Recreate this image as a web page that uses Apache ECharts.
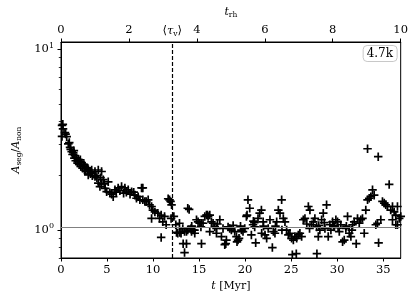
<!DOCTYPE html>
<html>
<head>
<meta charset="utf-8">
<script src="https://cdn.jsdelivr.net/npm/echarts@6/dist/echarts.min.js"></script>
<style>html,body{margin:0;padding:0;background:#fff}#c{width:411px;height:308px}</style>
</head>
<body>
<div id="c"></div>
<script>
// time in Myr
const tMyr = [
 0.11,0.20,0.22,0.11,0.43,0.50,0.62,0.79,0.90,0.98,1.05,1.16,1.25,1.33,1.45,1.52,1.60,1.70,1.80,1.88,
 2.00,2.06,2.15,2.25,2.35,2.42,2.55,2.60,2.70,2.79,2.96,2.96,3.15,3.20,3.33,3.40,3.69,3.69,3.90,4.05,
 4.05,4.23,4.40,4.41,4.59,4.80,4.96,5.13,5.31,5.50,5.67,5.86,6.00,6.21,6.40,6.58,6.80,6.94,7.10,7.30,
 7.50,7.67,7.90,8.03,8.20,8.38,8.57,8.75,8.89,8.89,9.11,9.25,9.47,9.62,9.84,9.84,9.98,10.20,10.52,10.70,
 10.88,10.88,11.06,11.25,11.42,11.64,11.79,11.90,11.96,12.01,
 12.26,12.47,12.55,12.69,12.87,12.91,13.04,13.27,13.23,13.42,13.63,13.42,13.63,13.77,13.77,13.92,14.13,14.18,14.35,14.50,
 14.53,14.72,14.89,15.08,15.26,15.26,15.43,15.62,15.80,15.91,15.98,16.16,16.16,16.34,16.52,16.70,16.89,16.89,17.25,17.43,
 17.60,17.79,17.90,17.97,18.15,18.33,18.51,18.87,19.06,19.12,19.23,19.34,19.60,19.77,19.96,20.14,20.21,20.31,20.50,20.68,
 20.86,21.04,21.15,21.40,21.58,21.77,
 21.80,21.96,22.16,22.34,22.51,22.70,22.96,23.07,23.24,23.43,23.61,23.79,23.97,24.15,24.33,24.51,24.70,24.87,25.05,25.13,
 25.24,25.41,25.56,25.60,25.78,25.95,26.14,26.32,26.50,26.87,27.04,27.22,27.41,27.58,27.77,27.80,27.95,28.12,28.31,28.49,
 28.67,28.85,29.03,29.21,29.32,29.50,29.69,29.86,30.04,30.23,30.40,30.59,30.77,30.94,31.13,31.31,31.49,31.67,31.85,32.07,
 32.21,32.40,32.57,32.75,32.94,33.11,33.30,33.30,33.48,33.66,33.84,34.02,34.20,34.38,34.46,34.50,34.74,34.92,35.11,35.28,
 35.47,35.65,35.82,36.01,36.01,36.19,36.37,36.37,36.55,36.55,36.74,36.91,
 22.00,23.30,24.00,26.70,27.00,28.00,28.60,29.60,30.10,31.00,31.60,19.50,18.70,17.00,15.20,14.20,20.90,21.00,
 1.40,2.10,2.50,2.90,3.30,3.80,4.30,4.70
];
// A_seg / A_non
const ratio = [
 3.80,3.85,3.63,3.30,3.46,3.40,3.29,3.00,3.05,2.87,2.80,2.72,2.62,2.68,2.50,2.58,2.42,2.51,2.35,2.45,
 2.30,2.39,2.25,2.36,2.20,2.30,2.15,2.25,2.12,2.21,2.15,2.02,2.11,2.05,2.15,2.00,2.11,1.98,1.95,2.15,
 1.82,1.74,1.80,2.11,1.90,1.70,1.63,1.85,1.61,1.58,1.53,1.67,1.62,1.71,1.65,1.74,1.60,1.71,1.62,1.67,
 1.58,1.63,1.62,1.56,1.50,1.53,1.47,1.71,1.71,1.47,1.44,1.44,1.47,1.38,1.35,1.16,1.29,1.26,1.24,1.16,
 1.21,0.91,1.11,1.19,1.07,1.49,1.47,1.44,1.16,1.38,
 1.19,1.07,0.97,0.96,1.09,0.97,0.96,0.84,1.02,0.98,0.98,0.75,0.84,1.00,1.32,1.30,1.02,0.98,1.00,1.00,
 0.96,1.14,1.11,1.09,1.09,0.84,1.09,1.19,1.21,1.21,1.19,1.21,0.98,1.11,1.09,1.04,1.02,0.96,1.14,0.92,
 1.02,0.83,0.84,0.88,1.04,1.02,1.00,0.98,0.92,0.86,0.88,0.90,1.00,0.98,1.02,1.19,1.21,1.47,1.32,0.94,
 1.07,1.04,0.85,1.16,1.24,1.29,
 0.96,1.11,0.94,0.90,1.02,1.14,0.80,0.98,0.96,1.11,1.29,1.24,1.47,1.16,1.11,1.00,0.94,0.96,0.90,0.73,
 0.88,0.92,0.74,0.90,0.94,0.96,0.92,1.14,1.16,1.35,1.29,1.07,1.11,1.16,1.04,0.74,0.92,1.00,1.14,1.24,
 1.02,1.38,0.92,1.07,1.00,1.11,1.04,1.14,1.11,0.98,1.07,0.86,0.88,1.02,1.19,0.96,0.92,1.07,1.11,0.84,
 1.16,1.09,1.14,1.16,0.96,1.29,1.47,2.82,1.50,1.53,1.67,1.56,1.07,1.09,2.55,0.85,1.14,1.44,1.41,1.38,
 1.35,1.79,1.29,1.35,1.14,1.26,1.21,1.07,1.35,1.07,1.16,1.19,
 1.05,1.05,1.00,1.08,1.02,1.06,1.10,1.06,1.03,1.05,1.00,1.05,1.06,1.08,1.04,1.05,1.12,1.10,
 2.75,2.45,2.30,2.20,2.08,2.00,1.95,1.80
];
const xTicks = [0,5,10,15,20,25,30,35];
const topTicks = [0,2,4,6,8,10];
const yMajor = [1,10];
const yMinor = [0.7,0.8,0.9,2,3,4,5,6,7,8,9];
const tauV = 12.08;      // <tau_v> in Myr
const refLevel = 1.03;   // horizontal reference level
const boxLabel = '4.7k';

const FONT = 'DejaVu Serif';
const chart = echarts.init(document.getElementById('c'), null, {renderer:'canvas'});
const pts = tMyr.map((t,i)=>[t, ratio[i]]);
const plus = 'path://M6.4,0H9.6V6.4H16V9.6H9.6V16H6.4V9.6H0V6.4H6.4Z';
const lbl = {fontFamily:FONT, fontSize:11.5, color:'#000'};

chart.setOption({
  animation:false,
  title:{text:boxLabel, right:14, top:45, borderColor:'#c8c8c8', borderWidth:1, borderRadius:4,
    padding:[3,4,2,4], textStyle:{fontFamily:FONT, fontSize:12, fontWeight:'normal', color:'#000'}},
  grid:{left:61, right:9, top:42, bottom:50, show:true, borderColor:'#000', borderWidth:1, containLabel:false},
  xAxis:[
    {type:'value', min:0, max:36.9, interval:5, position:'bottom',
     name:'{i|t} [Myr]', nameLocation:'middle', nameGap:15,
     nameTextStyle:{fontFamily:FONT, fontSize:11, color:'#000', rich:{i:{fontStyle:'italic', fontFamily:FONT, fontSize:11}}},
     axisLine:{lineStyle:{color:'#000', width:1}},
     axisTick:{customValues:xTicks, length:3.5, lineStyle:{color:'#000'}},
     axisLabel:Object.assign({customValues:xTicks, margin:6}, lbl),
     splitLine:{show:false}},
    {type:'value', min:0, max:10, interval:2, position:'top',
     name:'{i|t}{s|rh}', nameLocation:'middle', nameGap:19,
     nameTextStyle:{fontFamily:FONT, fontSize:11, color:'#000', rich:{i:{fontStyle:'italic', fontFamily:FONT, fontSize:11, lineHeight:13}, s:{fontFamily:FONT, fontSize:7.5, verticalAlign:'bottom', lineHeight:9}}},
     axisLine:{lineStyle:{color:'#000', width:1}},
     axisTick:{customValues:topTicks, length:3.5, lineStyle:{color:'#000'}},
     axisLabel:Object.assign({customValues:topTicks, margin:6}, lbl),
     splitLine:{show:false}}
  ],
  yAxis:[
    {type:'log', min:0.7, max:11, logBase:10, position:'left',
     name:'{i|A}{s|seg}{n|/}{i|A}{s|non}', nameLocation:'middle', nameGap:34, nameRotate:90,
     nameTextStyle:{fontFamily:FONT, fontSize:11, color:'#000', rich:{
       i:{fontStyle:'italic', fontFamily:FONT, fontSize:11, lineHeight:14},
       n:{fontFamily:FONT, fontSize:11, lineHeight:14},
       s:{fontFamily:FONT, fontSize:7.5, verticalAlign:'bottom', lineHeight:9}}},
     axisLine:{lineStyle:{color:'#000', width:1}},
     axisTick:{customValues:yMajor, length:3.5, lineStyle:{color:'#000'}},
     axisLabel:{customValues:yMajor, margin:7,
       formatter:(v)=>'{b|10}{p|'+Math.round(Math.log10(v))+'}',
       rich:{b:{fontFamily:FONT, fontSize:11.5, color:'#000', lineHeight:16}, p:{fontFamily:FONT, fontSize:8, color:'#000', verticalAlign:'top', lineHeight:10}}},
     splitLine:{show:false}},
    {type:'log', min:0.7, max:11, logBase:10, position:'left', offset:0,
     axisLine:{show:true, lineStyle:{color:'#000', width:1}},
     axisTick:{show:true, customValues:yMinor, length:2.2, lineStyle:{color:'#000', width:0.8}},
     axisLabel:{show:false}, splitLine:{show:false}}
  ],
  series:[{
    type:'scatter', xAxisIndex:0, yAxisIndex:0, data:pts,
    symbol:plus, symbolSize:8.5, itemStyle:{color:'#000', opacity:1},
    markLine:{silent:true, symbol:'none', animation:false,
      data:[
        {xAxis:tauV, lineStyle:{color:'#000', width:1.2, type:[4,2]},
         label:{show:true, position:'end', distance:4, formatter:'⟨{i|τ}{s|v}⟩',
           fontFamily:FONT, fontSize:11.5, color:'#000',
           rich:{i:{fontStyle:'italic', fontFamily:FONT, fontSize:11.5, lineHeight:14}, s:{fontFamily:FONT, fontSize:7.5, verticalAlign:'bottom', lineHeight:9}}}},
        {yAxis:refLevel, lineStyle:{color:'#808080', width:1, type:'solid'}, label:{show:false}}
      ]}
  }]
});
</script>
</body>
</html>
